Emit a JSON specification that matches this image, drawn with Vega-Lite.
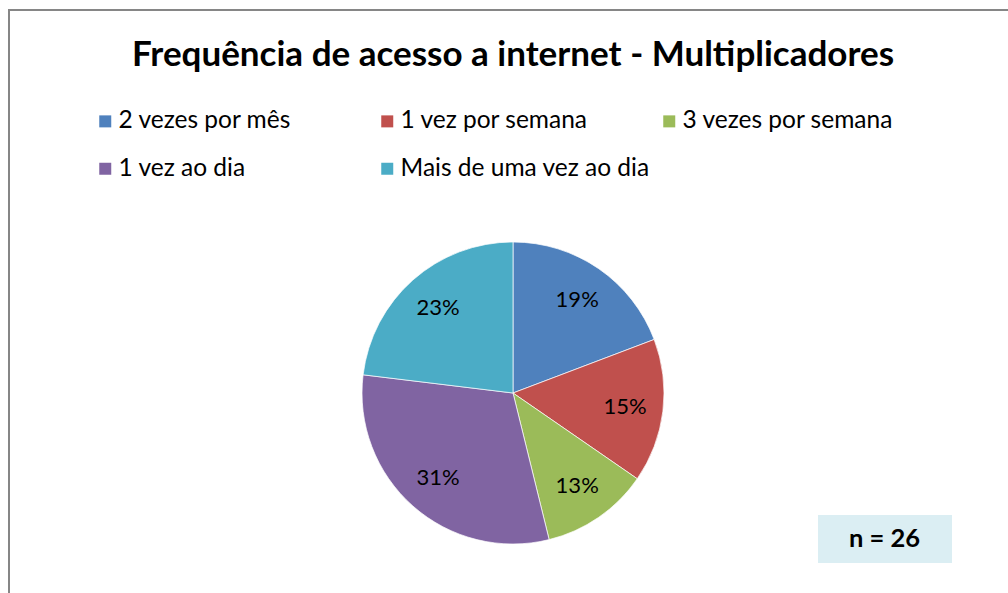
{
  "$schema": "https://vega.github.io/schema/vega-lite/v6.json",
  "width": 1008,
  "height": 766,
  "autosize": "none",
  "padding": {"left": 9, "top": 10, "right": 0, "bottom": 0},
  "background": "white",
  "view": {"stroke": "#868686", "strokeWidth": 2, "fill": "white"},
  "title": {
    "text": "Frequência de acesso a internet - Multiplicadores",
    "font": "Lato",
    "fontSize": 35,
    "fontWeight": "bold",
    "color": "#000000",
    "anchor": "middle",
    "offset": -63
  },
  "config": {"view": {"stroke": "#868686", "strokeWidth": 2}},
  "layer": [
    {
      "data": {
        "values": [
          {"categoria": "2 vezes por mês", "valor": 5, "rotulo": "19%", "ordem": 1},
          {"categoria": "1 vez por semana", "valor": 4, "rotulo": "15%", "ordem": 2},
          {"categoria": "3 vezes por semana", "valor": 3, "rotulo": "13%", "ordem": 3},
          {"categoria": "1 vez ao dia", "valor": 8, "rotulo": "31%", "ordem": 4},
          {"categoria": "Mais de uma vez ao dia", "valor": 6, "rotulo": "23%", "ordem": 5}
        ]
      },
      "encoding": {
        "theta": {"field": "valor", "type": "quantitative", "stack": true},
        "order": {"field": "ordem", "type": "quantitative"}
      },
      "layer": [
        {
          "mark": {"type": "arc", "radius": 151, "stroke": "#ffffff", "strokeWidth": 0.7},
          "encoding": {
            "color": {
              "field": "categoria",
              "type": "nominal",
              "scale": {
                "domain": ["2 vezes por mês", "1 vez por semana", "3 vezes por semana", "1 vez ao dia", "Mais de uma vez ao dia"],
                "range": ["#4F81BD", "#C0504D", "#9BBB59", "#8064A2", "#4BACC6"]
              },
              "legend": {
                "orient": "none",
                "direction": "horizontal",
                "legendX": 84,
                "legendY": 99,
                "title": null,
                "columns": 3,
                "gridAlign": "all",
                "columnPadding": 7,
                "rowPadding": 22.5,
                "padding": 0,
                "symbolType": "square",
                "symbolSize": 144,
                "symbolStrokeWidth": 0,
                "labelOffset": 1,
                "labelFont": "Lato",
                "labelFontSize": 24.5,
                "labelColor": "#000000",
                "labelLimit": 400
              }
            }
          }
        },
        {
          "mark": {"type": "text", "radius": 113, "font": "Lato", "fontSize": 22, "align": "center", "baseline": "middle"},
          "encoding": {
            "text": {"field": "rotulo", "type": "nominal"},
            "color": {"value": "#000000"}
          }
        }
      ]
    },
    {
      "data": {"values": [{"nota": "n = 26"}]},
      "mark": {"type": "point", "filled": true, "size": 0, "opacity": 0, "color": "#DBEEF3"},
      "encoding": {
        "shape": {
          "field": "nota",
          "type": "nominal",
          "scale": {"domain": ["n = 26"], "range": ["M-1,-0.3582H1V0.3582H-1Z"]},
          "legend": {
            "orient": "none",
            "legendX": 809,
            "legendY": 462,
            "title": null,
            "padding": 0,
            "symbolSize": 17956,
            "symbolOpacity": 1,
            "symbolFillColor": "#DBEEF3",
            "symbolStrokeWidth": 0,
            "labelOffset": -103,
            "labelFont": "Lato",
            "labelFontSize": 25.5,
            "labelFontWeight": "bold",
            "labelColor": "#000000"
          }
        }
      }
    }
  ]
}
